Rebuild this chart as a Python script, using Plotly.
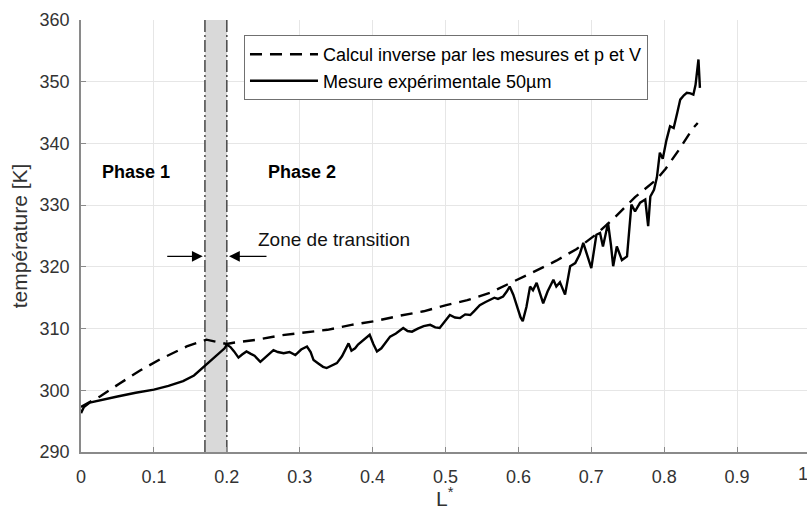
import plotly.graph_objects as go

# ---------------- data ----------------
mesure_L = [0.000, 0.004, 0.012, 0.030, 0.050, 0.075, 0.100, 0.120, 0.140, 0.155,
            0.170, 0.185, 0.197, 0.200, 0.205, 0.210, 0.216, 0.221, 0.227, 0.233,
            0.238, 0.246, 0.252, 0.258, 0.264, 0.270, 0.278, 0.286, 0.294, 0.302,
            0.310, 0.315, 0.319, 0.326, 0.332, 0.337, 0.343, 0.351, 0.358, 0.364,
            0.367, 0.371, 0.376, 0.380, 0.388, 0.396, 0.401, 0.406, 0.412, 0.418,
            0.424, 0.432, 0.442, 0.448, 0.454, 0.462, 0.470, 0.479, 0.486, 0.492,
            0.500, 0.506, 0.513, 0.520, 0.527, 0.534, 0.540, 0.547, 0.555, 0.561,
            0.567, 0.572, 0.579, 0.584, 0.588, 0.593, 0.598, 0.603, 0.606, 0.611,
            0.616, 0.620, 0.625, 0.630, 0.634, 0.640, 0.648, 0.652, 0.657, 0.664,
            0.671, 0.678, 0.684, 0.689, 0.694, 0.700, 0.707, 0.712, 0.716, 0.723,
            0.727, 0.730, 0.735, 0.742, 0.749, 0.755, 0.760, 0.767, 0.774, 0.778,
            0.781, 0.786, 0.790, 0.794, 0.798, 0.803, 0.808, 0.813, 0.818, 0.822,
            0.827, 0.831, 0.836, 0.840, 0.843, 0.847, 0.849]
mesure_T = [296.3, 297.3, 298.0, 298.5, 299.0, 299.6, 300.1, 300.7, 301.5, 302.4,
            304.0, 305.5, 306.8, 307.4, 307.0, 306.3, 305.3, 305.8, 306.3, 305.9,
            305.6, 304.6, 305.2, 305.9, 306.5, 306.2, 306.0, 306.2, 305.7, 306.6,
            307.1, 306.2, 304.9, 304.3, 303.8, 303.6, 304.0, 304.4, 305.5, 306.8,
            307.6, 306.4, 306.8, 307.4, 308.2, 309.0, 307.5, 306.3, 306.8, 307.8,
            308.7, 309.2, 310.1, 309.6, 309.5, 310.0, 310.4, 310.6, 310.2, 310.1,
            311.2, 312.2, 311.8, 311.7, 312.3, 312.2, 312.9, 313.8, 314.3, 314.7,
            315.0, 314.8, 315.2, 316.0, 316.8, 315.5, 313.5, 311.8, 311.2, 313.5,
            316.8, 316.2, 317.4, 315.5, 314.1, 316.0, 317.9, 316.8, 317.5, 315.5,
            320.1, 320.6, 322.0, 323.9, 322.0, 319.8, 325.2, 325.5, 323.3, 327.1,
            323.5, 320.1, 323.3, 321.1, 321.7, 330.1, 329.0, 330.4, 330.9, 326.6,
            331.4, 332.5, 334.5, 338.5, 337.5, 340.5, 342.8, 342.5, 345.0, 347.1,
            347.8, 348.2, 348.1, 347.9, 349.5, 353.6, 349.0]

calcul_L = [0.000, 0.026, 0.053, 0.081, 0.108, 0.145, 0.172, 0.186, 0.200, 0.209,
            0.242, 0.274, 0.306, 0.338, 0.371, 0.403, 0.438, 0.470, 0.501, 0.530,
            0.561, 0.592, 0.623, 0.652, 0.680, 0.707, 0.733, 0.760, 0.778, 0.790,
            0.802, 0.821, 0.839, 0.846]
calcul_T = [297.3, 299.0, 301.1, 303.2, 305.0, 307.1, 308.2, 307.9, 307.5, 307.7,
            308.2, 308.9, 309.3, 309.8, 310.6, 311.2, 312.1, 312.8, 313.8, 314.6,
            315.8, 317.5, 319.3, 321.0, 322.9, 325.3, 328.1, 331.3, 333.0, 334.2,
            335.9, 339.1, 342.4, 343.3]

x_ticks = [0, 0.1, 0.2, 0.3, 0.4, 0.5, 0.6, 0.7, 0.8, 0.9]
x_tick_labels = ["0", "0.1", "0.2", "0.3", "0.4", "0.5", "0.6", "0.7", "0.8", "0.9"]
y_ticks = [290, 300, 310, 320, 330, 340, 350, 360]
x_max_label = "1"
x_title = "L<sup>*</sup>"
y_title = "température [K]"

transition_start = 0.17
transition_end = 0.2
phase1_pos = (0.0754, 335.3)
phase2_pos = (0.3025, 335.3)
zone_label_pos = (0.24, 324.4)
arrow_T = 321.7

FONT = "Liberation Sans, Arial, Helvetica, sans-serif"
AXIS_GRAY = "#8a8a8a"
TEXT_GRAY = "#333333"
X_VISIBLE_MAX = 726 / 729  # the source image cuts the axes just before L*=1

fig = go.Figure()

fig.add_trace(go.Scatter(
    x=calcul_L, y=calcul_T, mode="lines",
    name="Calcul inverse par les mesures et p et V",
    line=dict(color="black", width=2.4, dash="12px,8px"),
))
fig.add_trace(go.Scatter(
    x=mesure_L, y=mesure_T, mode="lines",
    name="Mesure expérimentale 50µm",
    line=dict(color="black", width=2.4),
))

shapes = [
    dict(type="rect", xref="x", yref="y", x0=transition_start, x1=transition_end,
         y0=290, y1=360, fillcolor="#d9d9d9", line=dict(width=0), layer="between"),
    dict(type="line", xref="x", yref="y", x0=transition_start, x1=transition_start,
         y0=290, y1=360, line=dict(color="#505050", width=1.6, dash="12px,3px,2px,3px"),
         layer="between"),
    dict(type="line", xref="x", yref="y", x0=transition_end, x1=transition_end,
         y0=290, y1=360, line=dict(color="#505050", width=1.6, dash="12px,3px,2px,3px"),
         layer="between"),
]

annotations = [
    dict(x=phase1_pos[0], y=phase1_pos[1], xref="x", yref="y", text="<b>Phase 1</b>",
         showarrow=False, font=dict(family=FONT, size=18, color="black")),
    dict(x=phase2_pos[0], y=phase2_pos[1], xref="x", yref="y", text="<b>Phase 2</b>",
         showarrow=False, font=dict(family=FONT, size=18, color="black")),
    dict(x=zone_label_pos[0], y=zone_label_pos[1], xref="x", yref="y",
         text="Zone de transition", showarrow=False, xanchor="left",
         font=dict(family=FONT, size=19, color="#111111")),
    dict(x=transition_start - 0.003, y=arrow_T, xref="x", yref="y", text="",
         showarrow=True, arrowhead=2, arrowsize=1.8, arrowwidth=1.2, arrowcolor="black",
         ax=-37, ay=0),
    dict(x=transition_end + 0.003, y=arrow_T, xref="x", yref="y", text="",
         showarrow=True, arrowhead=2, arrowsize=1.8, arrowwidth=1.2, arrowcolor="black",
         ax=39, ay=0),
    # tick label "1" at the edge of the visible area (cut off like in the source)
    dict(x=1.0 / X_VISIBLE_MAX, y=0, xref="paper", yref="paper", text=x_max_label,
         showarrow=False, yanchor="top", yshift=-10,
         font=dict(family=FONT, size=18, color=TEXT_GRAY)),
    # x-axis title, centred on the full 0..1 axis
    dict(x=0.5 / X_VISIBLE_MAX, y=0, xref="paper", yref="paper", text=x_title,
         showarrow=False, yanchor="top", yshift=-30,
         font=dict(family=FONT, size=21, color=TEXT_GRAY)),
]

fig.update_layout(
    width=807, height=510,
    margin=dict(l=81, r=0, t=20, b=58, autoexpand=False),
    paper_bgcolor="white", plot_bgcolor="white",
    font=dict(family=FONT, size=18, color=TEXT_GRAY),
    shapes=shapes, annotations=annotations,
    showlegend=True,
    legend=dict(
        x=0.2245, y=0.965, xanchor="left", yanchor="top",
        bgcolor="white", bordercolor="#707070", borderwidth=1,
        font=dict(family=FONT, size=18, color="black"),
        itemwidth=68, tracegroupgap=0,
    ),
)

fig.update_xaxes(
    range=[0, X_VISIBLE_MAX], tickvals=x_ticks, ticktext=x_tick_labels,
    automargin=False,
    showgrid=True, gridcolor="#e6e6e6", gridwidth=1, zeroline=False,
    showline=True, linecolor=AXIS_GRAY, linewidth=1.5,
    ticks="inside", ticklen=5, tickcolor=AXIS_GRAY, tickwidth=1.2,
    ticklabelstandoff=8,
    tickfont=dict(family=FONT, size=18, color=TEXT_GRAY),
)
fig.update_yaxes(
    range=[290, 360], tickvals=y_ticks,
    automargin=False,
    showgrid=True, gridcolor="#e6e6e6", gridwidth=1, zeroline=False,
    showline=True, linecolor=AXIS_GRAY, linewidth=1.5,
    ticks="inside", ticklen=5, tickcolor=AXIS_GRAY, tickwidth=1.2,
    ticklabelstandoff=6,
    tickfont=dict(family=FONT, size=18, color=TEXT_GRAY),
    title=dict(text=y_title, font=dict(family=FONT, size=21, color=TEXT_GRAY), standoff=6),
)

fig.write_html("out.html")
